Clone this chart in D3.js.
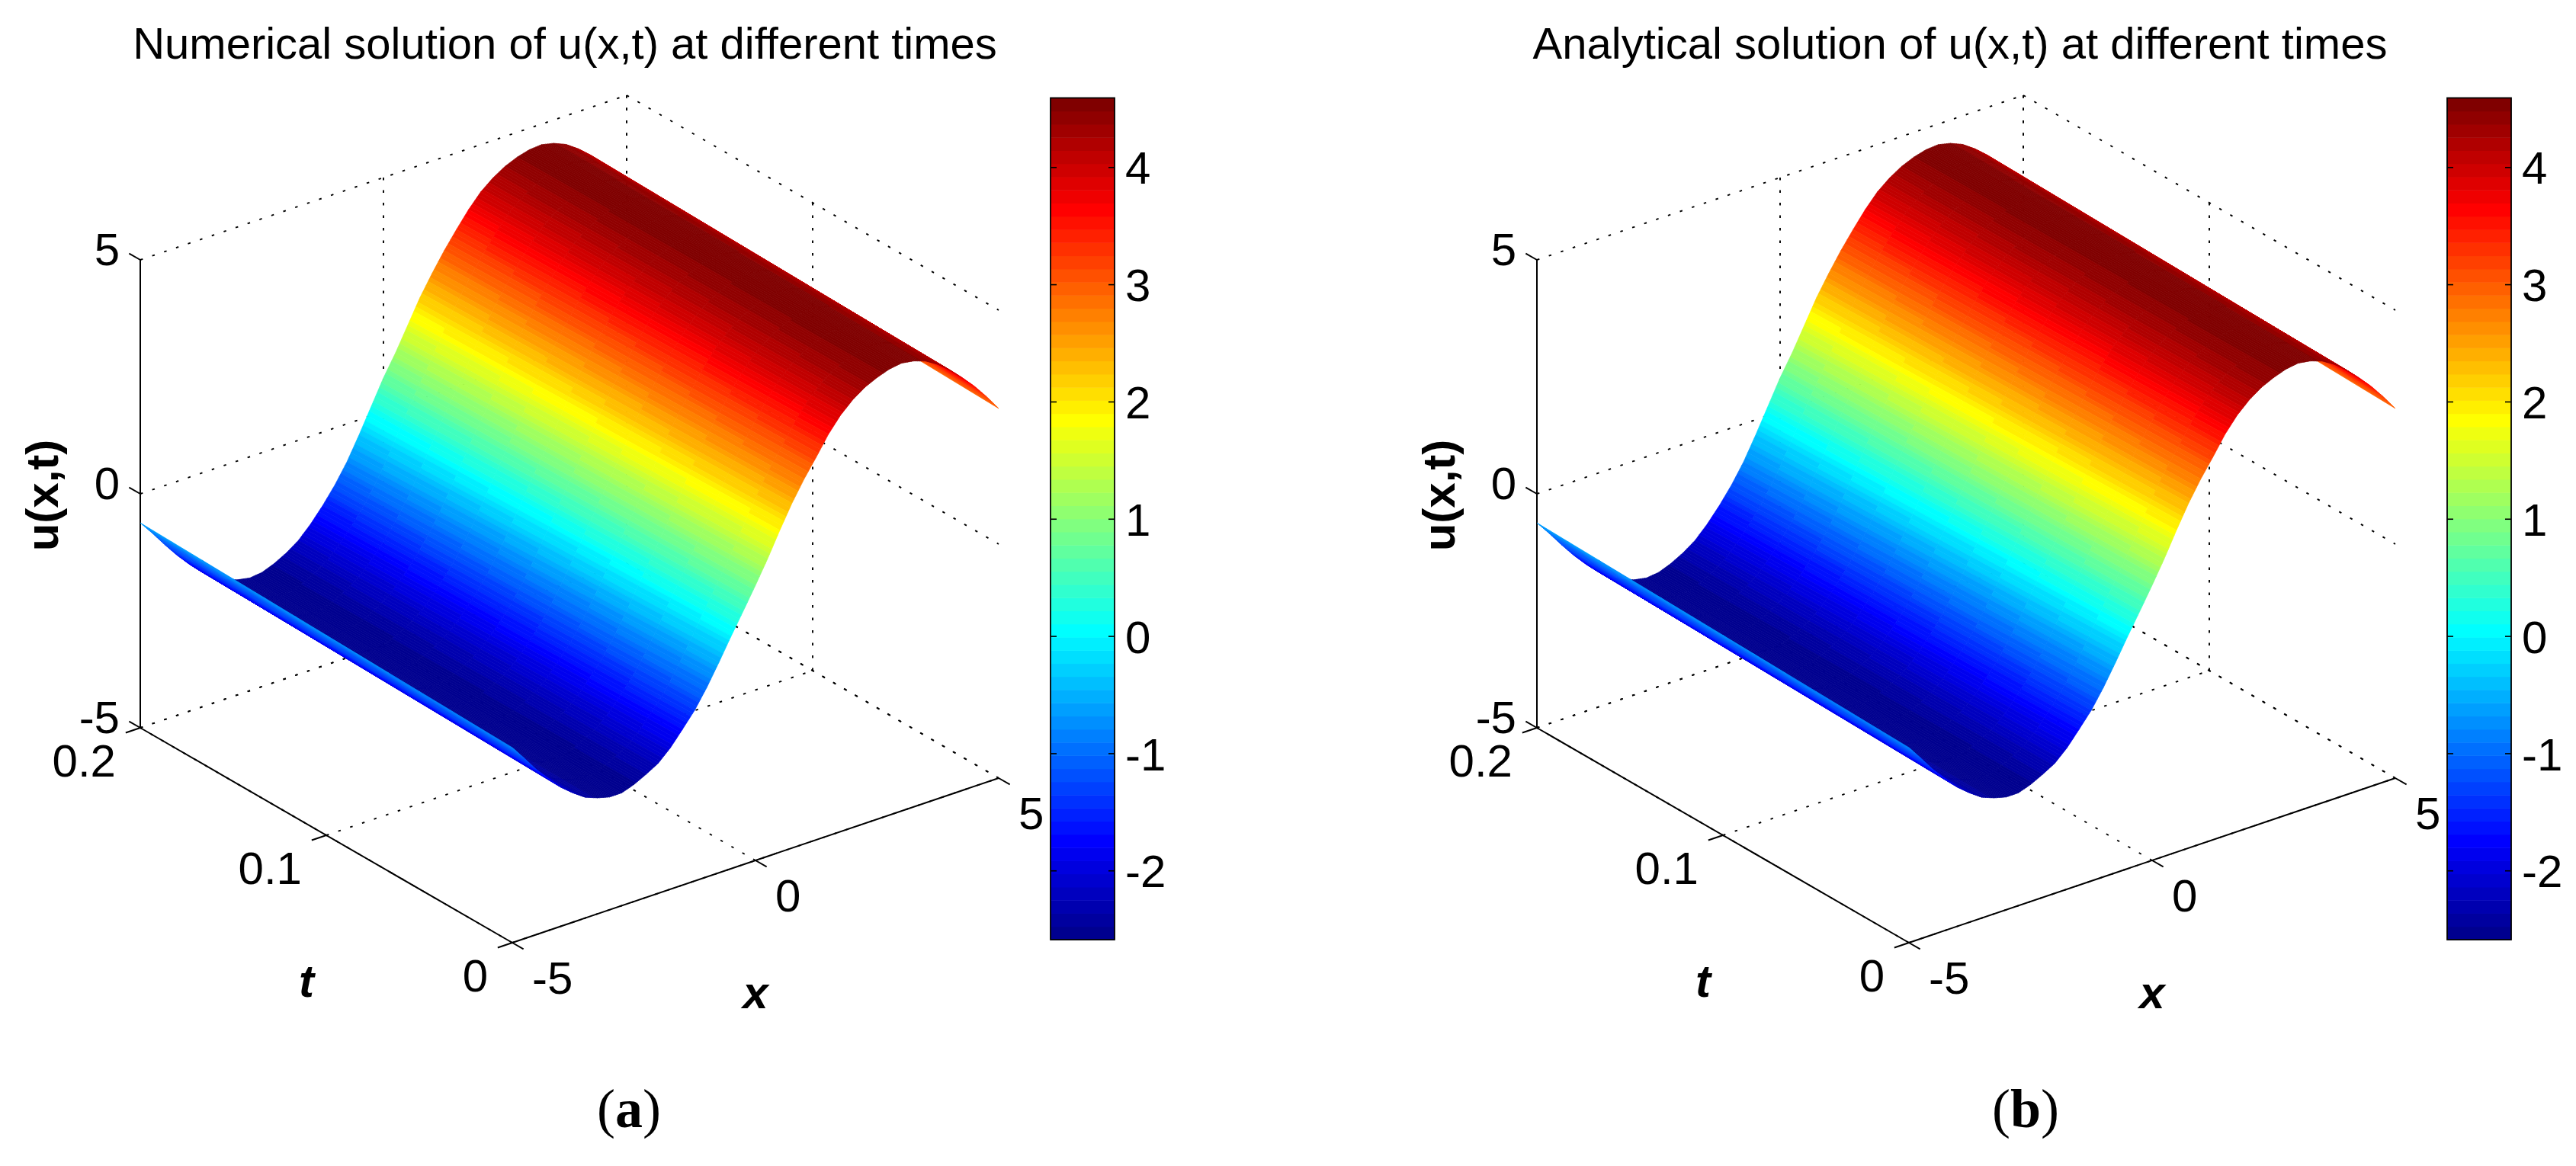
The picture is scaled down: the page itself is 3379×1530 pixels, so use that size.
<!DOCTYPE html>
<html>
<head>
<meta charset="utf-8">
<title>u(x,t) surfaces</title>
<script src="https://cdn.jsdelivr.net/npm/d3@7"></script>
<style>
  html, body { margin: 0; padding: 0; background: #fff; }
  svg { display: block; }
  text { font-family: "Liberation Sans", Arial, sans-serif; fill: #000; }
</style>
</head>
<body>
<div id="my_dataviz"></div>
<script>
// values
var titles = ["Numerical solution of u(x,t) at different times", "Analytical solution of u(x,t) at different times"]
var captions = ["a", "b"]
var xValues = [-5, -4.75, -4.5, -4.25, -4, -3.75, -3.5, -3.25, -3, -2.75, -2.5, -2.25, -2, -1.75, -1.5, -1.25, -1, -0.75, -0.5, -0.25,
  0, 0.25, 0.5, 0.75, 1, 1.25, 1.5, 1.75, 2, 2.25, 2.5, 2.75, 3, 3.25, 3.5, 3.75, 4, 4.25, 4.5, 4.75, 5]
// u at t = 0 and at t = 0.2
var uStart = [-0.83, -1.15, -1.48, -1.76, -2.03, -2.24, -2.42, -2.52, -2.59, -2.59, -2.50, -2.37, -2.22, -1.98, -1.67, -1.35, -0.95, -0.50, -0.03, 0.42,
  0.88, 1.36, 1.88, 2.37, 2.80, 3.18, 3.58, 3.90, 4.14, 4.32, 4.44, 4.53, 4.57, 4.53, 4.44, 4.28, 4.07, 3.82, 3.55, 3.24, 2.90]
var uEnd = [-0.62, -0.93, -1.26, -1.57, -1.85, -2.10, -2.30, -2.45, -2.54, -2.59, -2.56, -2.46, -2.32, -2.14, -1.88, -1.57, -1.22, -0.81, -0.32, 0.20,
  0.72, 1.17, 1.67, 2.17, 2.60, 3.00, 3.36, 3.70, 3.99, 4.20, 4.36, 4.47, 4.54, 4.56, 4.50, 4.39, 4.21, 3.99, 3.73, 3.45, 3.13]
var xTicks = [-5, 0, 5]
var tTicks = [0, 0.1, 0.2]
var zTicks = [-5, 0, 5]
var cbTicks = [-2, -1, 0, 1, 2, 3, 4]
var cbDomain = [-2.59, 4.59]

var panelOffset = 1832
var fontSize = 60

var svg = d3.select("#my_dataviz")
  .append("svg")
  .attr("width", 3379)
  .attr("height", 1530)

svg.append("rect").attr("width", 3379).attr("height", 1530).attr("fill", "#fff")

// matlab jet, 64 flat colours
var jetRamp = d3.scaleLinear()
  .domain([0, 7, 23, 39, 55, 63])
  .range(["rgb(0,0,143)", "rgb(0,0,255)", "rgb(0,255,255)", "rgb(255,255,0)", "rgb(255,0,0)", "rgb(128,0,0)"])
var jetColors = d3.range(64).map(function (i) { return jetRamp(i) })
var color = d3.scaleQuantize().domain(cbDomain).range(jetColors)

// the box is an orthographic view: each data axis moves along its own screen vector
var sx = { h: d3.scaleLinear().domain([-5, 5]).range([0, 638]), v: d3.scaleLinear().domain([-5, 5]).range([0, -216]) }
var st = { h: d3.scaleLinear().domain([0, 0.2]).range([0, -488]), v: d3.scaleLinear().domain([0, 0.2]).range([0, -282]) }
var sz = d3.scaleLinear().domain([-5, 5]).range([0, -614])
var cornerX = 672, cornerY = 1237

function project(x, t, z) {
  return [cornerX + sx.h(x) + st.h(t), cornerY + sx.v(x) + st.v(t) + sz(z)]
}

// surface cells are cut finer than the readings so the colour runs in flat bands
var subX = 6, subT = 12
var cells = []
for (var i = xValues.length - 2; i >= 0; i--) {
  for (var a = subX - 1; a >= 0; a--) {
    for (var b = subT - 1; b >= 0; b--) {
      cells.push(makeCell(i, a, b))
    }
  }
}

function surfacePoint(i, fx, ft) {
  var x = xValues[i] + (xValues[i + 1] - xValues[i]) * fx
  var u0 = uStart[i] + (uStart[i + 1] - uStart[i]) * fx
  var u1 = uEnd[i] + (uEnd[i + 1] - uEnd[i]) * fx
  var z = u0 + (u1 - u0) * ft
  return { p: project(x, 0.2 * ft, z), z: z }
}

function makeCell(i, a, b) {
  var c = [
    surfacePoint(i, a / subX, b / subT),
    surfacePoint(i, (a + 1) / subX, b / subT),
    surfacePoint(i, (a + 1) / subX, (b + 1) / subT),
    surfacePoint(i, a / subX, (b + 1) / subT)
  ]
  return { points: c.map(function (d) { return d.p.join(",") }).join(" "), value: d3.mean(c, function (d) { return d.z }) }
}

function dotted(g, from, to) {
  g.append("line")
    .attr("x1", from[0]).attr("y1", from[1])
    .attr("x2", to[0]).attr("y2", to[1])
    .attr("stroke", "#000")
    .attr("stroke-width", 1.9)
    .attr("stroke-dasharray", "3.5 13")
}

function solid(g, from, to) {
  g.append("line")
    .attr("x1", from[0]).attr("y1", from[1])
    .attr("x2", to[0]).attr("y2", to[1])
    .attr("stroke", "#000")
    .attr("stroke-width", 2)
}

function label(g, txt, pos, anchor) {
  return g.append("text")
    .attr("x", pos[0]).attr("y", pos[1])
    .attr("text-anchor", anchor)
    .style("font-size", fontSize + "px")
    .text(txt)
}

function drawPanel(index) {
  var g = svg.append("g").attr("transform", "translate(" + (panelOffset * index) + ",0)")

  // grid and hidden box edges
  zTicks.forEach(function (z) {
    dotted(g, project(-5, 0.2, z), project(5, 0.2, z))
    dotted(g, project(5, 0.2, z), project(5, 0, z))
  })
  xTicks.forEach(function (x) {
    dotted(g, project(x, 0.2, -5), project(x, 0.2, 5))
    dotted(g, project(x, 0, -5), project(x, 0.2, -5))
  })
  tTicks.forEach(function (t) {
    if (t > 0) dotted(g, project(5, t, -5), project(5, t, 5))
    dotted(g, project(-5, t, -5), project(5, t, -5))
  })

  // axis lines
  solid(g, project(-5, 0.2, -5), project(-5, 0.2, 5))
  solid(g, project(-5, 0.2, -5), project(-5, 0, -5))
  solid(g, project(-5, 0, -5), project(5, 0, -5))

  // ticks
  zTicks.forEach(function (z) {
    var p = project(-5, 0.2, z), q = project(-5, 0.206, z)
    solid(g, p, q)
    label(g, z, [p[0] - 27, p[1] + 7], "end")
  })
  tTicks.forEach(function (t) {
    var p = project(-5, t, -5), q = project(-5.3, t, -5)
    solid(g, p, q)
    label(g, t, [p[0] - 32, p[1] + 64], "end")
  })
  xTicks.forEach(function (x) {
    var p = project(x, 0, -5), q = project(x, -0.006, -5)
    solid(g, p, q)
    label(g, x, [p[0] + 26, p[1] + 67], "start")
  })

  // surface, far cells first
  g.append("g")
    .selectAll("polygon")
    .data(cells)
    .enter()
    .append("polygon")
    .attr("points", function (d) { return d.points })
    .attr("fill", function (d) { return color(d.value) })
    .attr("stroke", function (d) { return color(d.value) })
    .attr("stroke-width", 0.7)

  // titles and axis labels
  label(g, titles[index], [index == 0 ? 741 : 739, 77], "middle").style("font-size", "58px")
  label(g, "u(x,t)", [76, 650], "middle")
    .attr("x", 0).attr("y", 0)
    .attr("transform", "translate(76,650) rotate(-90)")
    .style("font-weight", "bold")
  label(g, "t", [402, 1308], "middle").style("font-weight", "bold").style("font-style", "italic")
  label(g, "x", [991, 1323], "middle").style("font-weight", "bold").style("font-style", "italic")

  // caption
  var cap = g.append("text")
    .attr("x", 825).attr("y", 1479)
    .attr("text-anchor", "middle")
    .style("font-family", '"Liberation Serif", serif')
    .style("font-size", "72px")
  cap.append("tspan").text("(")
  cap.append("tspan").style("font-weight", "bold").text(captions[index])
  cap.append("tspan").text(")")

  // colour bar
  var cbY = d3.scaleLinear().domain(cbDomain).range([1233, 128.5])
  var step = (cbDomain[1] - cbDomain[0]) / 64
  g.append("g")
    .selectAll("rect")
    .data(jetColors)
    .enter()
    .append("rect")
    .attr("x", 1378)
    .attr("width", 84)
    .attr("y", function (d, i) { return cbY(cbDomain[0] + (i + 1) * step) })
    .attr("height", function (d, i) { return cbY(cbDomain[0] + i * step) - cbY(cbDomain[0] + (i + 1) * step) + 0.5 })
    .attr("fill", function (d) { return d })

  g.append("rect")
    .attr("x", 1378).attr("y", 128.5)
    .attr("width", 84).attr("height", 1104.5)
    .attr("fill", "none")
    .attr("stroke", "#000")
    .attr("stroke-width", 1.8)

  // plain hyphen on the negative labels, as in the picture
  var right = g.append("g")
    .attr("transform", "translate(1462,0)")
    .call(d3.axisRight(cbY).tickValues(cbTicks).tickSize(-8).tickSizeOuter(0).tickPadding(14).tickFormat(String))
  right.select(".domain").remove()
  right.selectAll("text")
    .attr("dy", "0.36em")
    .style("font-size", fontSize + "px")
    .style("font-family", '"Liberation Sans", Arial, sans-serif')
  right.selectAll("line").attr("stroke-width", 1.6)

  var left = g.append("g")
    .attr("transform", "translate(1378,0)")
    .call(d3.axisLeft(cbY).tickValues(cbTicks).tickSize(-8).tickSizeOuter(0).tickFormat(""))
  left.select(".domain").remove()
  left.selectAll("line").attr("stroke-width", 1.6)
}

drawPanel(0)
drawPanel(1)
</script>
</body>
</html>
